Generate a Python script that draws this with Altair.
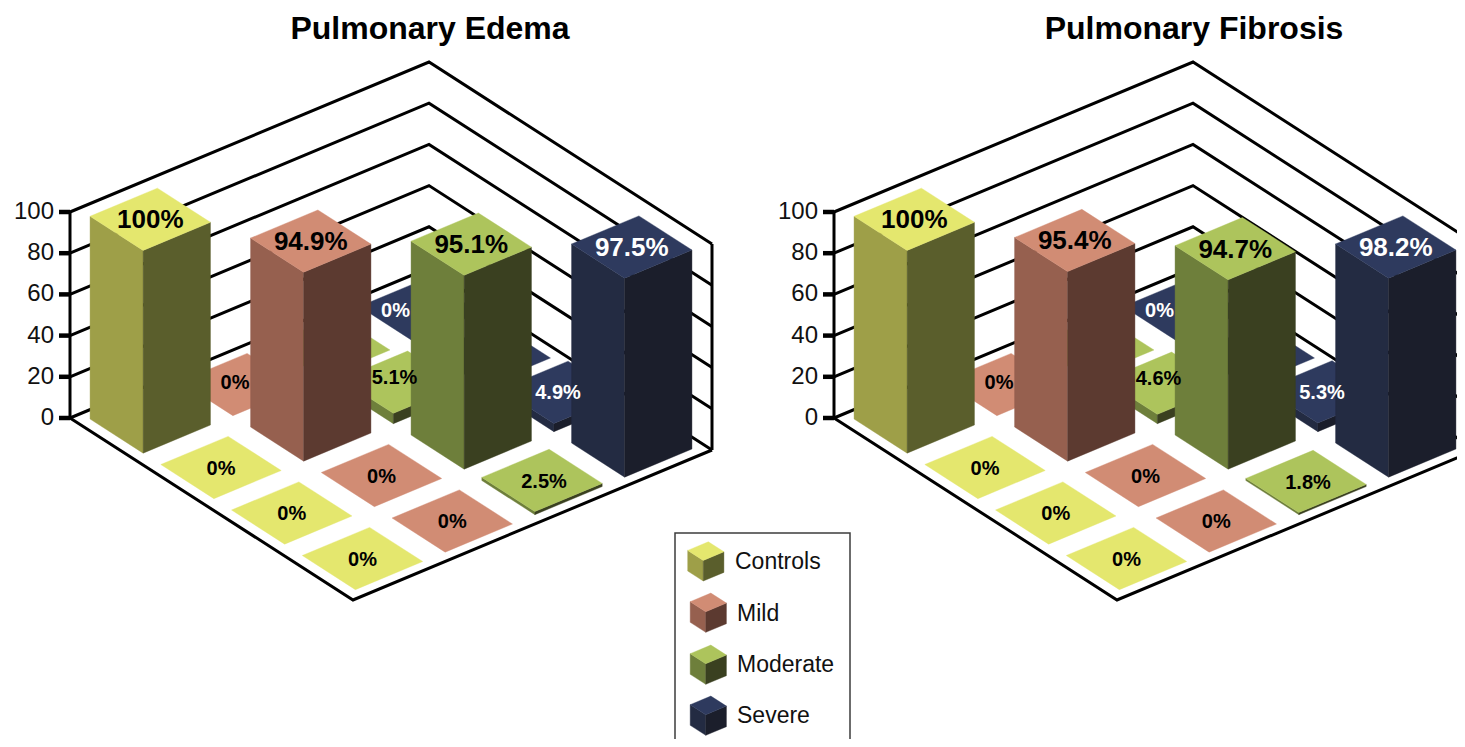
import altair as alt
import pandas as pd

FONT = "Liberation Sans"
PAGE_W, PAGE_H = 1465, 747
MARGIN = 8

# ---------- data ----------
titles = ["Pulmonary Edema", "Pulmonary Fibrosis"]
categories = ["Controls", "Mild", "Moderate", "Severe"]
ticks = [0, 20, 40, 60, 80, 100]

# printed percentages, row a (front axis), column b (category)
labels_edema = {(0, 0): 100, (1, 1): 94.9, (2, 2): 95.1, (3, 3): 97.5,
                (1, 0): 0, (2, 0): 0, (3, 0): 0,
                (0, 1): 0, (2, 1): 0, (3, 1): 0,
                (1, 2): 5.1, (3, 2): 2.5,
                (0, 3): 0, (2, 3): 4.9}
labels_fibrosis = {(0, 0): 100, (1, 1): 95.4, (2, 2): 94.7, (3, 3): 98.2,
                   (1, 0): 0, (2, 0): 0, (3, 0): 0,
                   (0, 1): 0, (2, 1): 0, (3, 1): 0,
                   (1, 2): 4.6, (3, 2): 1.8,
                   (0, 3): 0, (2, 3): 5.3}
# heights as they are drawn, read against the 0-100 axis
drawn_edema = {(0, 0): 98.4, (1, 1): 91.7, (2, 2): 94.1, (3, 3): 96.6,
               (1, 2): 5.0, (3, 2): 1.5, (2, 3): 4.0}
drawn_fibrosis = {(0, 0): 98.4, (1, 1): 92.0, (2, 2): 91.9, (3, 3): 96.6,
                  (1, 2): 4.5, (3, 2): 1.0, (2, 3): 4.2}

top_colors = ["#E4E76E", "#D18C74", "#ADC45C", "#2E3A5E"]
left_colors = ["#9E9F48", "#96604F", "#6E7F3B", "#232B42"]
right_colors = ["#5A5E2C", "#5C3A30", "#3A4020", "#1B1E2B"]
text_colors = ["#000000", "#000000", "#000000", "#FFFFFF"]

# ---------- oblique projection of the chart ----------
ORIGINS = [(70.0, 418.0), (834.0, 418.0)]
U = (70.75, 45.5)     # one cell along the front axis
V = (89.75, -37.5)    # one cell along the back axis
PX_PER_UNIT = 2.06
GAP = 0.125


def project(origin, a, b, z=0.0):
    return (origin[0] + a * U[0] + b * V[0],
            origin[1] + a * U[1] + b * V[1] - z * PX_PER_UNIT)


def poly(points, fill):
    ring = [list(p) for p in points] + [list(points[0])]
    return {"type": "Feature", "properties": {"fill": fill},
            "geometry": {"type": "Polygon", "coordinates": [ring]}}


def box(origin, a0, a1, b0, b1, h, c):
    out = []
    if h > 0:
        out.append(poly([project(origin, a0, b0, h), project(origin, a1, b0, h),
                         project(origin, a1, b0), project(origin, a0, b0)], left_colors[c]))
        out.append(poly([project(origin, a1, b0, h), project(origin, a1, b1, h),
                         project(origin, a1, b1), project(origin, a1, b0)], right_colors[c]))
    out.append(poly([project(origin, a0, b0, h), project(origin, a1, b0, h),
                     project(origin, a1, b1, h), project(origin, a0, b1, h)], top_colors[c]))
    return out


features, texts, lines = [], [], []
# small nudges where the original moved a label off the cell centre
nudge = {(0, 1): (-5, -3), (0, 3): (-24, 0), (1, 2): (-6, -5),
         (2, 3): (-3, 0), (3, 2): (2, 1)}

for p, (origin, labels, drawn, title) in enumerate(zip(
        ORIGINS, [labels_edema, labels_fibrosis], [drawn_edema, drawn_fibrosis], titles)):
    cells = sorted(
        [(a, b) for a in range(4) for b in range(4)],
        key=lambda ab: -(ab[1] - ab[0]))
    for a, b in cells:
        h = drawn.get((a, b), 0.0)
        features += box(origin, a + GAP, a + 1 - GAP, b + GAP, b + 1 - GAP, h, b)
        if (a, b) in labels:
            x, y = project(origin, a + 0.5, b + 0.5, h)
            dx, dy = nudge.get((a, b), (0, 0))
            big = a == b
            texts.append({"x": x + dx, "y": y + dy + 1,
                          "t": f"{labels[(a, b)]:g}%", "c": text_colors[b],
                          "kind": "big" if big else "small"})
    # walls, floor edge, axis
    for i, z in enumerate(ticks):
        for k, (a, b) in enumerate([(0, 0), (0, 4), (4, 4)]):
            x, y = project(origin, a, b, z)
            lines.append({"x": x, "y": y, "id": f"{p}w{i}", "o": k})
    for k, (a, b) in enumerate([(0, 0), (4, 0), (4, 4)]):
        x, y = project(origin, a, b)
        lines.append({"x": x, "y": y, "id": f"{p}f", "o": k})
    for k, z in enumerate([0, 100]):
        for tag, (a, b) in (("l", (0, 0)), ("r", (4, 4))):
            x, y = project(origin, a, b, z)
            lines.append({"x": x, "y": y, "id": f"{p}v{tag}", "o": k})

tick_rows = []
tick_text = []
for origin in ORIGINS:
    for z in ticks:
        x, y = project(origin, 0, 0, z)
        tick_rows.append({"x": x - 11, "x2": x, "y": y})
        tick_text.append({"x": x - 16, "y": y, "t": str(z)})

title_rows = [{"x": 430, "y": 29, "t": titles[0]}, {"x": 1194, "y": 29, "t": titles[1]}]

# legend
legend_anchor = [(687.7, 571.0), (690.2, 622.3), (690.2, 674.3), (690.2, 725.3)]
legend_text_x = [735, 737, 737, 737]
legend_text_y = [562, 614, 665, 716]
for c, anchor in enumerate(legend_anchor):
    features += box(anchor, 0, 0.22, 0, 0.23, 10, c)
legend_rows = [{"x": x, "y": y, "t": t}
               for x, y, t in zip(legend_text_x, legend_text_y, categories)]

# ---------- chart ----------
W, H = PAGE_W - 2 * MARGIN, PAGE_H - 2 * MARGIN
X = alt.X("x:Q", axis=None, scale=alt.Scale(domain=[MARGIN, MARGIN + W], nice=False, zero=False))
Y = alt.Y("y:Q", axis=None, scale=alt.Scale(domain=[MARGIN, MARGIN + H], reverse=True, nice=False, zero=False))

legend_box = alt.Chart(pd.DataFrame([{"x": 675, "x2": 850, "y": 533, "y2": 760}])).mark_rect(
    fill="white", stroke="#3c3c3c", strokeWidth=1.5, clip=True
).encode(x=X, x2="x2:Q", y=Y, y2="y2:Q")

grid = alt.Chart(pd.DataFrame(lines)).mark_line(
    color="black", strokeWidth=3, strokeJoin="miter", clip=True
).encode(x=X, y=Y, detail="id:N", order="o:Q")

tick_marks = alt.Chart(pd.DataFrame(tick_rows)).mark_rule(
    color="black", strokeWidth=4.5
).encode(x=X, x2="x2:Q", y=Y)

shapes = alt.Chart(alt.InlineData(
    values={"type": "FeatureCollection", "features": features},
    format=alt.DataFormat(property="features", type="json"),
)).mark_geoshape(strokeWidth=0.4, clip=True).encode(
    fill=alt.Fill("properties.fill:N", scale=None, legend=None),
    stroke=alt.Stroke("properties.fill:N", scale=None, legend=None),
).project(type="identity", scale=1, translate=[-MARGIN, -MARGIN])

df_t = pd.DataFrame(texts)
big_text = alt.Chart(df_t[df_t.kind == "big"]).mark_text(
    font=FONT, fontSize=26, fontWeight="bold", align="center", baseline="middle"
).encode(x=X, y=Y, text="t:N", color=alt.Color("c:N", scale=None, legend=None))
small_text = alt.Chart(df_t[df_t.kind == "small"]).mark_text(
    font=FONT, fontSize=20, fontWeight="bold", align="center", baseline="middle"
).encode(x=X, y=Y, text="t:N", color=alt.Color("c:N", scale=None, legend=None))

tick_labels = alt.Chart(pd.DataFrame(tick_text)).mark_text(
    font=FONT, fontSize=24, align="right", baseline="middle", color="#111111"
).encode(x=X, y=Y, text="t:N")

title_text = alt.Chart(pd.DataFrame(title_rows)).mark_text(
    font=FONT, fontSize=32, fontWeight="bold", align="center", baseline="middle", color="#000000"
).encode(x=X, y=Y, text="t:N")

legend_text = alt.Chart(pd.DataFrame(legend_rows)).mark_text(
    font=FONT, fontSize=23, align="left", baseline="middle", color="#111111"
).encode(x=X, y=Y, text="t:N")

chart = alt.layer(
    legend_box, grid, tick_marks, shapes, big_text, small_text,
    tick_labels, title_text, legend_text,
).properties(
    width=W, height=H, padding=0, background="white"
).configure_view(stroke=None)

chart.save("out.html", embed_options={"renderer": "svg", "actions": False})
